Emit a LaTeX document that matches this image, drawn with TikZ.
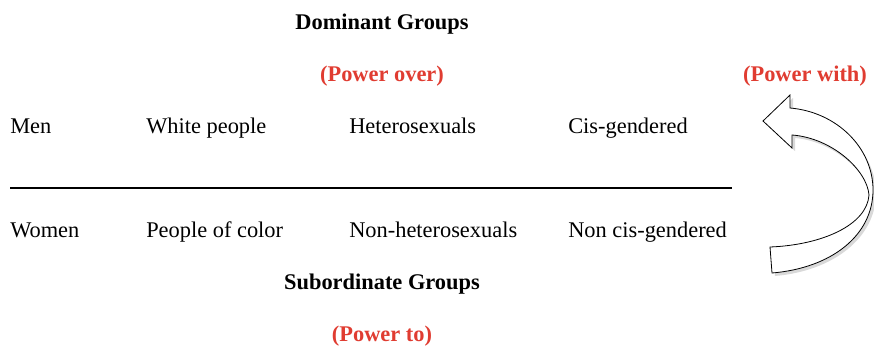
\documentclass[tikz,border=0pt]{standalone}
\usepackage{fontspec}
\setmainfont{Liberation Serif}
\usepackage{xcolor}
\definecolor{powerred}{HTML}{E03C31}
\usepackage{tikz}
\usetikzlibrary{positioning, calc}

\begin{document}
\begin{tikzpicture}[x=0.75pt, y=-0.75pt,
    group/.style={anchor=west, inner sep=0pt, font=\fontsize{16.8}{20}\selectfont,
                  text height=1.5ex, text depth=.25ex},
    heading/.style={inner sep=0pt, font=\fontsize{16.8}{20}\selectfont\bfseries},
    power/.style={heading, text=powerred}]
  \useasboundingbox (0,0) rectangle (874,346);

  % dominant side
  \node[heading] (dominant) at (382,24) {Dominant Groups};
  \node[power] (powerover) at (382,76) {(Power over)};
  \node[power] (powerwith) at (805,76) {(Power with)};

  \node[group] (men) at (10,130) {Men};
  \node[group] (white) at (146,130) {White people};
  \node[group] (hetero) at (349,130) {Heterosexuals};
  \node[group] (cis) at (568,130) {Cis-gendered};

  % dividing line
  \coordinate (lineleft) at (10,188);
  \coordinate (lineright) at (732,188);
  \draw[line width=1pt] (lineleft) -- (lineright);

  % subordinate side
  \node[group] (women) at (10,234) {Women};
  \node[group] (poc) at (146,234) {People of color};
  \node[group] (nonhetero) at (349,234) {Non-heterosexuals};
  \node[group] (noncis) at (568,234) {Non cis-gendered};

  \node[heading] (subordinate) at (382,284) {Subordinate Groups};
  \node[power] (powerto) at (382,336) {(Power to)};

  % curved block arrow
  \fill[black!15] (773,250) -- (775,276) .. controls (833,271) and (876,238) .. (876,193)
    .. controls (876,153) and (838,115) .. (793,111) -- (793,98) -- (766,124)
    -- (795,151) -- (795,138) .. controls (833,141) and (869,173) .. (871,198)
    .. controls (869,228) and (823,248) .. (773,250) -- cycle;
  \draw[fill=white, line width=0.6pt] (770,247) -- (772,273)
    .. controls (832,268) and (873,235) .. (873,190)
    .. controls (873,148) and (837,112) .. (790,108) -- (790,95) -- (763,121)
    -- (792,148) -- (792,135) .. controls (832,138) and (867,170) .. (869,195)
    .. controls (867,225) and (822,245) .. (770,247) -- cycle;
\end{tikzpicture}
\end{document}
